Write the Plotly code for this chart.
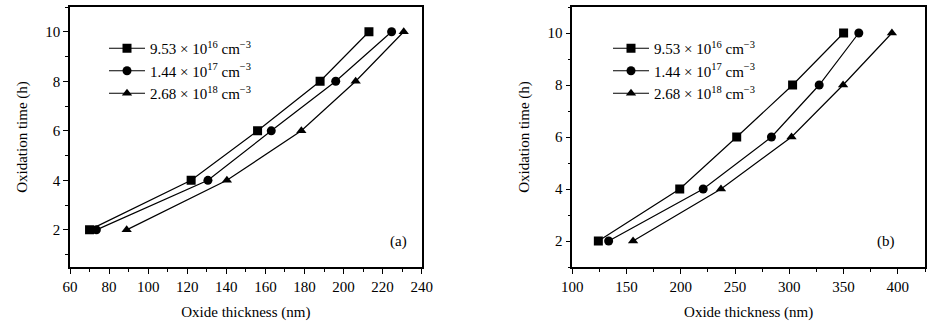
import plotly.graph_objects as go

times = [2, 4, 6, 8, 10]
labels = ["9.53 × 10<sup>16</sup> cm<sup>−3</sup>",
          "1.44 × 10<sup>17</sup> cm<sup>−3</sup>",
          "2.68 × 10<sup>18</sup> cm<sup>−3</sup>"]
symbols = ["square", "circle", "triangle-up"]

# Panel (a)
a_sq = [70, 122, 156, 188, 213]
a_ci = [73.5, 130.6, 163, 196, 224.6]
a_tr = [89, 140.3, 178.4, 206.2, 230.8]
# Panel (b)
b_sq = [124, 199, 251.5, 303, 350]
b_ci = [133.5, 220.6, 283.5, 327.5, 364]
b_tr = [156, 237, 302, 349.5, 394.5]

FONT = "Liberation Serif"
FS = 15
fig = go.Figure()

panels = [([a_sq, a_ci, a_tr], "x", "y", "legend"),
          ([b_sq, b_ci, b_tr], "x2", "y2", "legend2")]
for series, xa, ya, lg in panels:
    for xs, lab, sym in zip(series, labels, symbols):
        fig.add_trace(go.Scatter(
            x=xs, y=times, mode="lines+markers", name=lab,
            line=dict(color="black", width=1.2),
            marker=dict(symbol=sym, size=9, color="black"),
            xaxis=xa, yaxis=ya, legend=lg))

W, H = 941, 323
ydom = [1 - 267 / H, 1 - 7 / H]
common_ax = dict(showline=True, linecolor="black", linewidth=1.5, mirror=True,
                 ticks="outside", ticklen=5, tickwidth=1.2, tickcolor="black",
                 showgrid=False, zeroline=False, automargin=False,
                 tickfont=dict(family=FONT, size=FS, color="black"),
                 title_font=dict(family=FONT, size=FS, color="black"))

fig.update_layout(
    width=W, height=H, margin=dict(l=0, r=0, t=0, b=0),
    paper_bgcolor="white", plot_bgcolor="white",
    font=dict(family=FONT, size=FS, color="black"),
    xaxis=dict(domain=[70 / W, 421.7 / W], range=[60, 240], dtick=20, tick0=0,
               minor=dict(dtick=10, ticklen=3, ticks="outside", tickcolor="black"),
               title=dict(text="Oxide thickness (nm)", standoff=13), anchor="y", **common_ax),
    yaxis=dict(domain=ydom, range=[0.5, 11], dtick=2, tick0=0,
               minor=dict(dtick=1, ticklen=3, ticks="outside", tickcolor="black"),
               title=dict(text="Oxidation time (h)", standoff=14), anchor="x", **common_ax),
    xaxis2=dict(domain=[572.3 / W, 925 / W], range=[100, 425], dtick=50, tick0=0,
                minor=dict(dtick=25, ticklen=3, ticks="outside", tickcolor="black"),
                title=dict(text="Oxide thickness (nm)", standoff=13), anchor="y2", **common_ax),
    yaxis2=dict(domain=ydom, range=[1, 11], dtick=2, tick0=0,
                minor=dict(dtick=1, ticklen=3, ticks="outside", tickcolor="black"),
                title=dict(text="Oxidation time (h)", standoff=14), anchor="x2", **common_ax),
    legend=dict(x=104 / W, y=1 - 32 / H, xanchor="left", yanchor="top",
                bgcolor="rgba(0,0,0,0)", font=dict(family=FONT, size=FS),
                tracegroupgap=0, itemwidth=36),
    legend2=dict(x=608 / W, y=1 - 32 / H, xanchor="left", yanchor="top",
                 bgcolor="rgba(0,0,0,0)", font=dict(family=FONT, size=FS),
                 tracegroupgap=0, itemwidth=36),
    annotations=[
        dict(text="(a)", x=398 / W, y=1 - 252 / H, xref="paper", yref="paper",
             showarrow=False, font=dict(family=FONT, size=FS)),
        dict(text="(b)", x=897 / W, y=1 - 252 / H, xref="paper", yref="paper",
             showarrow=False, font=dict(family=FONT, size=FS)),
    ],
)

fig.write_html("out.html")
